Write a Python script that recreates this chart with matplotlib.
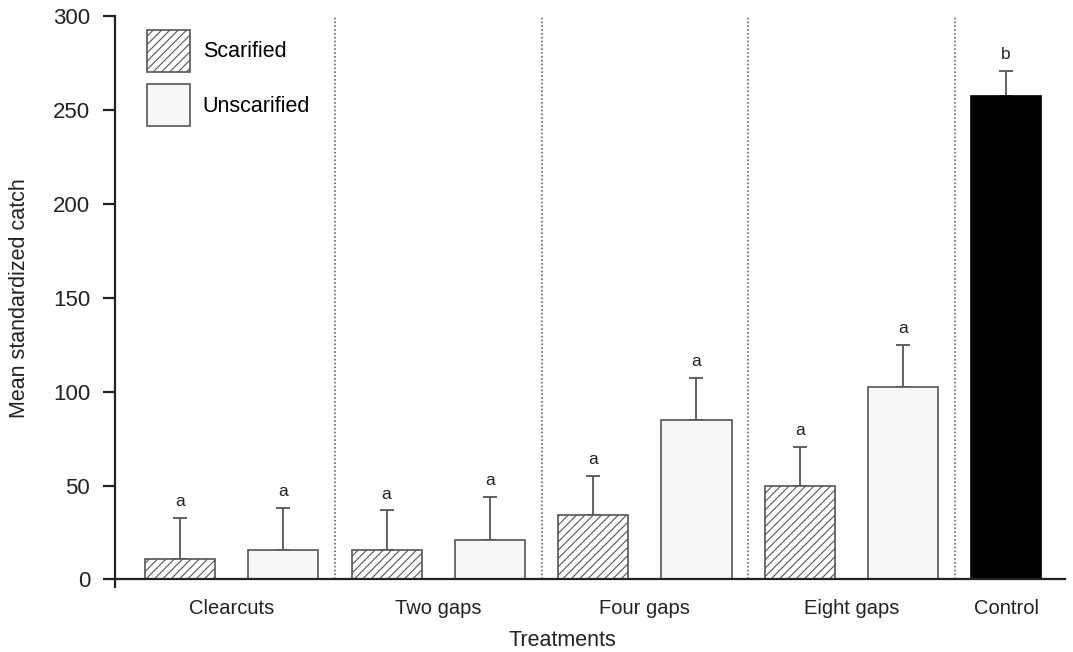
import numpy as np
import matplotlib
matplotlib.use('Agg')
import matplotlib.pyplot as plt
from matplotlib.patches import Patch

plt.rcParams['font.family'] = ['Liberation Sans', 'DejaVu Sans']
plt.rcParams['hatch.color'] = '#555555'
plt.rcParams['hatch.linewidth'] = 0.8

# data
groups = ['Clearcuts', 'Two gaps', 'Four gaps', 'Eight gaps']
scarified = [10.7, 15.6, 34.2, 49.8]
scarified_err = [21.9, 21.2, 21.0, 20.7]
unscarified = [15.6, 21.0, 84.9, 102.7]
unscarified_err = [22.6, 22.9, 22.6, 22.3]
control = 257.3
control_err = 13.4
control_label = 'Control'
letters_scarified = ['a', 'a', 'a', 'a']
letters_unscarified = ['a', 'a', 'a', 'a']
letter_control = 'b'
yticks = [0, 50, 100, 150, 200, 250, 300]

EDGE = '#555555'
TXT = '#222222'
BAR_W = 0.68

fig = plt.figure(figsize=(10.73, 6.52), dpi=100)
ax = fig.add_axes([0.1072, 0.0997, 0.8854, 0.8758])

x_s = np.arange(len(groups)) * 2
x_u = x_s + 1
x_c = len(groups) * 2

ax.bar(x_s, scarified, BAR_W, color='white', edgecolor=EDGE, hatch='////', linewidth=1.2, zorder=2)
ax.bar(x_u, unscarified, BAR_W, color='#f7f7f7', edgecolor=EDGE, linewidth=1.2, zorder=2)
ax.bar([x_c], [control], BAR_W, color='black', edgecolor='black', linewidth=1.2, zorder=2)

ekw = dict(fmt='none', ecolor=EDGE, elinewidth=1.3, capsize=4.7, capthick=1.3, zorder=1)
ax.errorbar(x_s, scarified, yerr=[np.zeros(len(groups)), scarified_err], **ekw)
ax.errorbar(x_u, unscarified, yerr=[np.zeros(len(groups)), unscarified_err], **ekw)
ax.errorbar([x_c], [control], yerr=[[0], [control_err]], **ekw)

# significance letters above the caps
tops = list(zip(x_s, np.add(scarified, scarified_err), letters_scarified)) \
     + list(zip(x_u, np.add(unscarified, unscarified_err), letters_unscarified)) \
     + [(x_c, control + control_err, letter_control)]
for xx, top, lab in tops:
  ax.annotate(lab, (xx, top), xytext=(0, 8.5), textcoords='offset points',
              ha='center', va='baseline', fontsize=12.5, color=TXT)

# dotted dividers between treatments
dividers = list(x_s[1:] - 0.5) + [x_c - 0.5]
ax.vlines(dividers, 0, 300, colors='#666666', linestyles=(0, (1, 1.3)), linewidth=1.2, zorder=0)

ax.set_xlim(-0.63, 8.57)
ax.set_ylim(-4, 300)
ax.spines['top'].set_visible(False)
ax.spines['right'].set_visible(False)
ax.spines['bottom'].set_position(('data', 0))
for s in ('left', 'bottom'):
  ax.spines[s].set_linewidth(1.6)
  ax.spines[s].set_color(TXT)

ax.set_yticks(yticks)
ax.tick_params(axis='y', direction='out', length=9, width=1.6, pad=9, labelsize=16, colors=TXT)
ax.set_xticks(list(x_s + 0.5) + [x_c])
ax.set_xticklabels(groups + [control_label])
ax.tick_params(axis='x', length=0, pad=14, labelsize=14.5, colors=TXT)

ax.set_ylabel('Mean standardized catch', fontsize=15.5, color=TXT)
ax.yaxis.set_label_coords(-0.0895, 0.506)
ax.set_xlabel('Treatments', fontsize=15.5, color=TXT)
ax.xaxis.set_label_coords(0.471, -0.0753)

handles = [Patch(facecolor='white', edgecolor=EDGE, hatch='////', linewidth=1.2),
           Patch(facecolor='#f7f7f7', edgecolor=EDGE, linewidth=1.2)]
ax.legend(handles, ['Scarified', 'Unscarified'], loc='upper left',
          bbox_to_anchor=(0.013, 1.01), frameon=False, fontsize=15.5,
          handlelength=2.0, handleheight=2.62, labelspacing=0.6, handletextpad=0.6)

fig.savefig('out.png', dpi=100)
